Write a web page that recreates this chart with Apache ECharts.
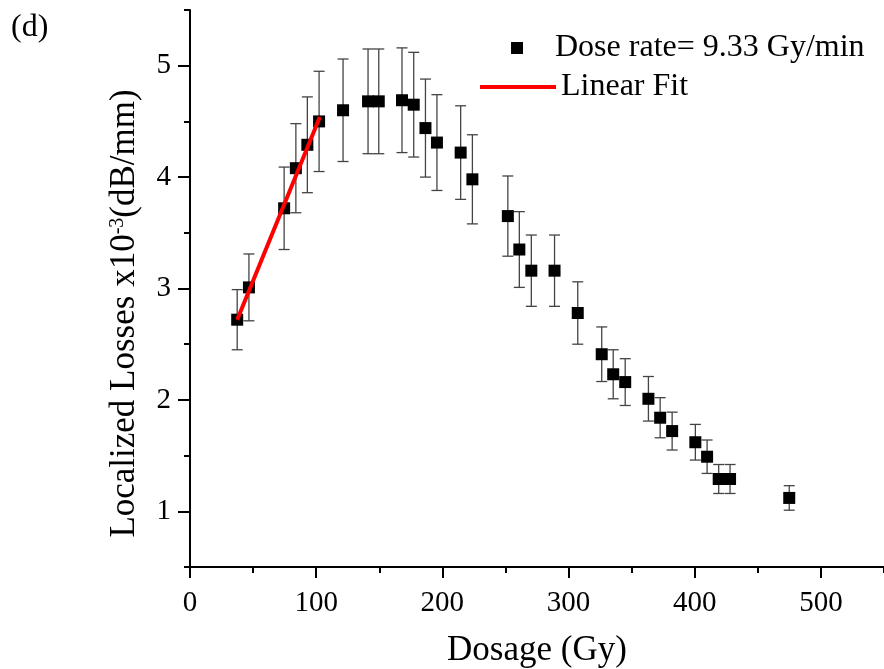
<!DOCTYPE html>
<html><head><meta charset="utf-8">
<script src="https://cdn.jsdelivr.net/npm/echarts@6/dist/echarts.min.js"></script>
<style>html,body{margin:0;padding:0;background:#fff}#c{width:884px;height:669px}</style>
</head><body><div id="c"></div>
<script>
const dose = [37.4, 46.7, 74.6, 83.9, 93.0, 102.3, 121.3, 141.1, 149.6, 168.0, 177.3, 186.6, 195.7, 214.5, 223.8, 251.9, 261.0, 270.5, 288.9, 307.3, 326.3, 335.4, 344.9, 363.3, 372.6, 382.1, 400.5, 409.8, 419.0, 428.0, 474.9];
const losses = [2.72, 3.01, 3.72, 4.08, 4.29, 4.50, 4.60, 4.68, 4.68, 4.69, 4.65, 4.44, 4.31, 4.22, 3.98, 3.65, 3.35, 3.16, 3.16, 2.78, 2.41, 2.23, 2.16, 2.01, 1.84, 1.72, 1.62, 1.49, 1.29, 1.29, 1.12];
const lossErr = [0.27, 0.30, 0.37, 0.40, 0.43, 0.45, 0.46, 0.47, 0.47, 0.47, 0.47, 0.44, 0.43, 0.42, 0.40, 0.36, 0.34, 0.32, 0.32, 0.28, 0.245, 0.22, 0.21, 0.20, 0.18, 0.17, 0.16, 0.15, 0.13, 0.13, 0.11];
const fitDose = [37.4, 102.9];
const fitLoss = [2.72, 4.54];
const xMajorTicks = [0, 100, 200, 300, 400, 500];
const xMinorTicks = [50, 150, 250, 350, 450, 550];
const yMajorTicks = [1, 2, 3, 4, 5];
const yMinorTicks = [0.5, 1.5, 2.5, 3.5, 4.5, 5.5];
const seriesName = 'Dose rate= 9.33 Gy/min';
const fitName = 'Linear Fit';

const FONT = '"Liberation Serif","Times New Roman",serif';
const pts = dose.map((d, i) => [d, losses[i]]);
const errData = dose.map((d, i) => [d, losses[i] - lossErr[i], losses[i] + lossErr[i]]);
const fitData = fitDose.map((d, i) => [d, fitLoss[i]]);

const chart = echarts.init(document.getElementById('c'), null, {renderer: 'canvas'});
const axisLineStyle = {color: '#000', width: 2};
chart.setOption({
  animation: false,
  backgroundColor: '#fff',
  title: {text: '(d)', left: 6, top: 7, textStyle: {fontFamily: FONT, fontSize: 32, fontWeight: 'normal', color: '#000'}},
  grid: {left: 190, right: 0, top: 10, bottom: 102, containLabel: false, outerBoundsMode: 'none'},
  legend: [
    {data: [{name: seriesName, icon: 'rect'}], left: 511, top: 32, padding: 0, itemWidth: 12, itemHeight: 12,
     textStyle: {fontFamily: FONT, fontSize: 32, color: '#000', lineHeight: 32, padding: [0, 0, 0, 27]}},
    {data: [{name: fitName, icon: 'rect'}], left: 480, top: 71, padding: 0, itemWidth: 76, itemHeight: 4,
     textStyle: {fontFamily: FONT, fontSize: 32, color: '#000', lineHeight: 32}}
  ],
  xAxis: [
    {type: 'value', min: 0, max: 550, position: 'bottom',
     name: 'Dosage (Gy)', nameLocation: 'middle', nameGap: 66,
     nameTextStyle: {fontFamily: FONT, fontSize: 35, color: '#000'},
     axisLine: {show: true, lineStyle: axisLineStyle},
     axisTick: {show: true, inside: false, length: 11, customValues: xMajorTicks, lineStyle: {color: '#000', width: 2}},
     axisLabel: {customValues: xMajorTicks, fontFamily: FONT, fontSize: 29, color: '#000', margin: 22},
     splitLine: {show: false}},
    {type: 'value', min: 0, max: 550, position: 'bottom', offset: 0,
     axisLine: {show: false},
     axisTick: {show: true, length: 6, customValues: xMinorTicks, lineStyle: {color: '#000', width: 2}},
     axisLabel: {show: false}, splitLine: {show: false}}
  ],
  yAxis: [
    {type: 'value', min: 0.5, max: 5.5, position: 'left',
     name: '{a|Localized Losses x10}{s|-3}{a|(dB/mm)}', nameLocation: 'middle', nameGap: 45, nameRotate: 90,
     nameTextStyle: {fontFamily: FONT, color: '#000', padding: [0, 50, 0, 0],
       rich: {a: {fontFamily: FONT, fontSize: 35, color: '#000', lineHeight: 40},
              s: {fontFamily: FONT, fontSize: 20, color: '#000', lineHeight: 40, verticalAlign: 'top', padding: [3, 0, 0, 0]}}},
     axisLine: {show: true, lineStyle: axisLineStyle},
     axisTick: {show: true, length: 12, customValues: yMajorTicks, lineStyle: {color: '#000', width: 2}},
     axisLabel: {customValues: yMajorTicks, fontFamily: FONT, fontSize: 29, color: '#000', margin: 19},
     splitLine: {show: false}},
    {type: 'value', min: 0.5, max: 5.5, position: 'left', offset: 0,
     axisLine: {show: false},
     axisTick: {show: true, length: 6, customValues: yMinorTicks, lineStyle: {color: '#000', width: 2}},
     axisLabel: {show: false}, splitLine: {show: false}}
  ],
  series: [
    {type: 'custom', name: 'err', silent: true, z: 2,
     encode: {x: 0, y: [1, 2]},
     data: errData,
     renderItem: function (params, api) {
       const x = api.value(0);
       const pLo = api.coord([x, api.value(1)]);
       const pHi = api.coord([x, api.value(2)]);
       const c = 5.5;
       const st = {stroke: '#444', lineWidth: 1.3};
       return {type: 'group', children: [
         {type: 'line', shape: {x1: pLo[0], y1: pLo[1], x2: pHi[0], y2: pHi[1]}, style: st},
         {type: 'line', shape: {x1: pLo[0] - c, y1: pLo[1], x2: pLo[0] + c, y2: pLo[1]}, style: st},
         {type: 'line', shape: {x1: pHi[0] - c, y1: pHi[1], x2: pHi[0] + c, y2: pHi[1]}, style: st}
       ]};
     }},
    {type: 'scatter', name: seriesName, data: pts, symbol: 'rect', symbolSize: 12, z: 3,
     itemStyle: {color: '#000', opacity: 1}},
    {type: 'line', name: fitName, data: fitData, showSymbol: false, symbol: 'none', z: 4,
     lineStyle: {color: '#ff0000', width: 4}, itemStyle: {color: '#ff0000'}}
  ]
});
</script>
</body></html>
